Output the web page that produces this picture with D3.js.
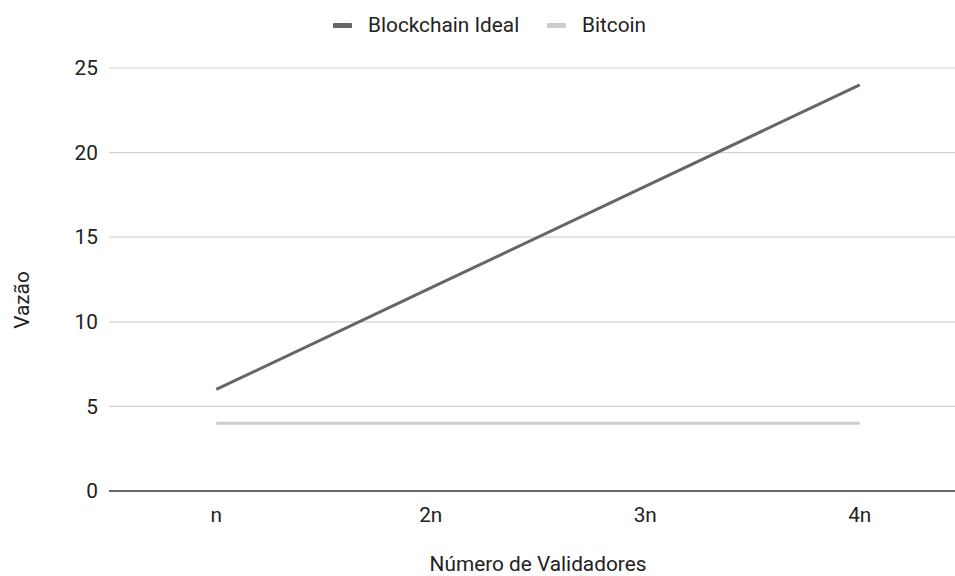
<!DOCTYPE html>
<html>
<head>
<meta charset="utf-8">
<script src="https://cdn.jsdelivr.net/npm/d3@7"></script>
<style>
  body { margin: 0; background: #fff; }
  text { font-family: Roboto, Arial, sans-serif; fill: #222; }
</style>
</head>
<body>
<div id="chart"></div>
<script>
// chart data
const categories = ["n", "2n", "3n", "4n"];
const blockchainIdeal = [6, 12, 18, 24];
const bitcoin = [4, 4, 4, 4];
const yTicks = [0, 5, 10, 15, 20, 25];
const seriesNames = ["Blockchain Ideal", "Bitcoin"];

const width = 955;
const height = 576;
const margin = {left: 109, right: -12, top: 68, bottom: 85};
const fontSize = "20.8px";

const svg = d3.select("#chart")
  .append("svg")
  .attr("width", width)
  .attr("height", height);

// scales
const xScale = d3.scaleBand()
  .domain(categories)
  .range([margin.left, width - margin.right]);

const yScale = d3.scaleLinear()
  .domain([0, 25])
  .range([height - margin.bottom, margin.top]);

// gridlines
svg.append("g")
  .selectAll("line")
  .data(yTicks.filter(d => d > 0))
  .enter()
  .append("line")
    .attr("x1", margin.left)
    .attr("x2", width)
    .attr("y1", d => yScale(d))
    .attr("y2", d => yScale(d))
    .attr("stroke", "#d4d4d4")
    .attr("stroke-width", 1.2);

// y axis labels
const yAxis = svg.append("g")
  .attr("transform", `translate(${margin.left}, 0)`)
  .call(d3.axisLeft(yScale).tickValues(yTicks).tickSize(0).tickPadding(11));
yAxis.select(".domain").remove();
yAxis.selectAll("text")
  .attr("font-size", fontSize)
  .attr("font-family", "Roboto, Arial, sans-serif")
  .attr("fill", "#222");

// x axis
const xAxis = svg.append("g")
  .attr("transform", `translate(0, ${yScale(0)})`)
  .call(d3.axisBottom(xScale).tickSize(0).tickPadding(16));
xAxis.select(".domain").remove();
xAxis.selectAll("text")
  .attr("font-size", fontSize)
  .attr("font-family", "Roboto, Arial, sans-serif")
  .attr("fill", "#222");

// baseline
svg.append("line")
  .attr("x1", margin.left)
  .attr("x2", width)
  .attr("y1", yScale(0))
  .attr("y2", yScale(0))
  .attr("stroke", "#333")
  .attr("stroke-width", 1.5);

// lines
const line = d3.line()
  .x((d, i) => xScale(categories[i]) + xScale.bandwidth() / 2)
  .y(d => yScale(d));

svg.append("path")
  .datum(bitcoin)
  .attr("fill", "none")
  .attr("stroke", "#cccccc")
  .attr("stroke-width", 3)
  .attr("d", line);

svg.append("path")
  .datum(blockchainIdeal)
  .attr("fill", "none")
  .attr("stroke", "#666666")
  .attr("stroke-width", 3)
  .attr("d", line);

// legend
const legendColors = ["#666666", "#cccccc"];
const legendX = [333, 547];
const legend = svg.append("g");
seriesNames.forEach((name, i) => {
  legend.append("rect")
    .attr("x", legendX[i])
    .attr("y", 23)
    .attr("width", 19)
    .attr("height", 5)
    .attr("rx", 1)
    .attr("fill", legendColors[i]);
  legend.append("text")
    .attr("x", legendX[i] + 35)
    .attr("y", 32)
    .attr("font-size", fontSize)
    .text(name);
});

// axis titles
svg.append("text")
  .attr("x", 538)
  .attr("y", 571)
  .attr("text-anchor", "middle")
  .attr("font-size", fontSize)
  .text("Número de Validadores");

svg.append("text")
  .attr("transform", `translate(29, 300) rotate(-90)`)
  .attr("text-anchor", "middle")
  .attr("font-size", fontSize)
  .text("Vazão");
</script>
</body>
</html>
